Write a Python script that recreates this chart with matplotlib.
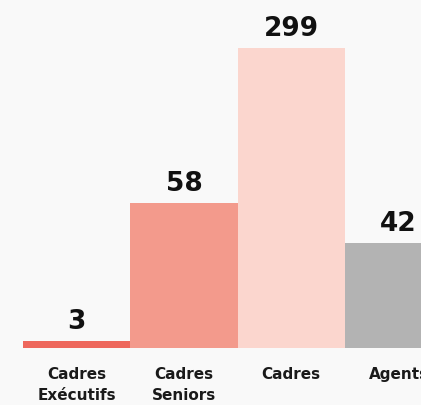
import numpy as np
import matplotlib
matplotlib.use("Agg")
import matplotlib.pyplot as plt

categories = ["Cadres\nExécutifs", "Cadres\nSeniors", "Cadres", "Agents"]
values = [3, 58, 299, 42]
colors = ["#ee675c", "#f39a8c", "#fbd6ce", "#b3b3b3"]

W, H = 421, 405
fig = plt.figure(figsize=(W / 100, H / 100), dpi=100, facecolor="#f9f9f9")
left_px, base_px, top_px = 23, 57, 48
slot_px = 107.3
ax = fig.add_axes([left_px / W, base_px / H, (W - left_px) / W, (H - base_px - top_px) / H])
ax.set_facecolor("#f9f9f9")

# value axis is capped; taller bars are clipped at the top of the plot area
y_max = 120
x = np.arange(len(values))
ax.bar(x, values, width=1.0, color=colors, edgecolor="none")
ax.set_ylim(0, y_max)
ax.set_xlim(-0.5, (W - left_px) / slot_px - 0.5)

for xi, v in zip(x, values):
    ax.annotate(str(v), (xi, min(v, y_max)), xytext=(0, 8.5), textcoords="offset points",
                ha="center", va="baseline", fontsize=19, fontweight="bold",
                color="#111111", family="DejaVu Sans", annotation_clip=False)

ax.set_xticks(x)
ax.set_xticklabels(categories, fontsize=11, fontweight="bold", color="#1a1a1a",
                   linespacing=1.45, va="top")
ax.tick_params(axis="x", length=0, pad=14)
ax.set_yticks([])
for s in ax.spines.values():
    s.set_visible(False)

fig.savefig("out.png", dpi=100, facecolor=fig.get_facecolor())
